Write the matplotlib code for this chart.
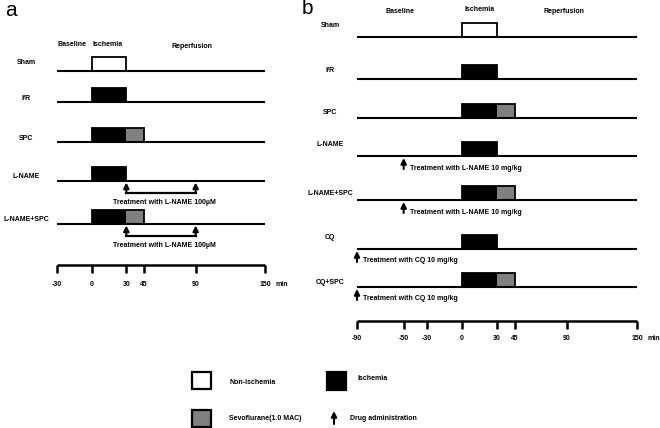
import matplotlib
matplotlib.use('Agg')
import matplotlib.pyplot as plt
from matplotlib.patches import Rectangle

plt.rcParams['font.family'] = ['Liberation Sans', 'DejaVu Sans']

# protocol timing (min)
isch_start = 0
isch_end = 30
sevo_end = 45

# panel a
rows_a = ['Sham', 'I/R', 'SPC', 'L-NAME', 'L-NAME+SPC']
box_a = ['non', 'isch', 'isch', 'isch', 'isch']
sevo_a = [False, False, True, False, True]
treat_a = [None, None, None, (30, 90), (30, 90)]
treat_text_a = 'Treatment with L-NAME 100\u00b5M'
ticks_a = [-30, 0, 30, 45, 90, 150]

# panel b
rows_b = ['Sham', 'I/R', 'SPC', 'L-NAME', 'L-NAME+SPC', 'CQ', 'CQ+SPC']
box_b = ['non', 'isch', 'isch', 'isch', 'isch', 'isch', 'isch']
sevo_b = [False, False, True, False, True, False, True]
drug_b = [None, None, None, -50, -50, -90, -90]
drug_text_b = ['', '', '', 'Treatment with L-NAME 10 mg/kg',
               'Treatment with L-NAME 10 mg/kg',
               'Treatment with CQ 10 mg/kg', 'Treatment with CQ 10 mg/kg']
ticks_b = [-90, -50, -30, 0, 30, 45, 90, 150]

# layout (pixel rows, y down)
line_y_a = [71, 102, 142, 181, 224]
label_y_a = [62, 98, 139, 176, 219]
line_y_b = [37, 79, 118, 156, 200, 249, 287]
label_y_b = [25, 70, 112, 145, 193, 237, 282]
box_h = 14
grey = '#808080'
fs = 5

fig = plt.figure(figsize=(6.6, 4.28), dpi=100)


def make_ax(left_px, t0, px0, t1, px1):
    ax = fig.add_axes([left_px / 660, 0, 330 / 660, 1])
    s = (px1 - px0) / (t1 - t0)
    ax.set_xlim(t0 - (px0 - left_px) / s, t0 + (left_px + 330 - px0) / s)
    ax.set_ylim(428, 0)
    ax.axis('off')
    return ax, s


def draw_row(ax, y, kind, sevo, tmin, tmax):
    ax.plot([tmin, tmax], [y, y], color='k', lw=1.5, solid_capstyle='butt')
    if kind == 'non':
        ax.add_patch(Rectangle((isch_start, y - box_h), isch_end - isch_start, box_h,
                               facecolor='white', edgecolor='k', lw=1.3))
    else:
        end = sevo_end if sevo else isch_end
        ax.add_patch(Rectangle((isch_start, y - box_h), isch_end - isch_start, box_h,
                               facecolor='k', edgecolor='none'))
        if sevo:
            ax.add_patch(Rectangle((isch_end, y - box_h), sevo_end - isch_end, box_h,
                                   facecolor=grey, edgecolor='none'))
        ax.add_patch(Rectangle((isch_start, y - box_h), end - isch_start, box_h,
                               facecolor='none', edgecolor='k', lw=1.3))


def up_arrow(ax, x, tip, tail):
    ax.annotate('', xy=(x, tip), xytext=(x, tail),
                arrowprops=dict(arrowstyle='-|>', color='k', lw=1.5,
                                mutation_scale=8, shrinkA=0, shrinkB=0))


def draw_axis(ax, y, ticks, label_y, s):
    ax.plot([ticks[0], ticks[-1]], [y, y], color='k', lw=1.8, solid_capstyle='butt')
    for t in ticks:
        ax.plot([t, t], [y, y + 8], color='k', lw=1.8, solid_capstyle='butt')
        ax.text(t, label_y, str(t), ha='center', va='center', fontsize=fs, fontweight='bold')
    ax.text(ticks[-1] + 10 / s, label_y, 'min', ha='left', va='center',
            fontsize=fs, fontweight='bold')


# ---- panel a ----
ax_a, s_a = make_ax(0, -30, 57, 150, 265)
fig.text(5 / 660, 1 - 11 / 428, 'a', fontsize=15, va='center', ha='left')
ax_a.text(-30, 44, 'Baseline', fontsize=fs, fontweight='bold', ha='left', va='center')
ax_a.text(1, 44, 'Ischemia', fontsize=fs, fontweight='bold', ha='left', va='center')
ax_a.text(87, 46, 'Reperfusion', fontsize=fs, fontweight='bold', ha='center', va='center')
for i, name in enumerate(rows_a):
    y = line_y_a[i]
    ax_a.text(26 / 330, label_y_a[i], name, transform=ax_a.get_yaxis_transform(),
              fontsize=fs, fontweight='bold', ha='center', va='center')
    draw_row(ax_a, y, box_a[i], sevo_a[i], ticks_a[0], ticks_a[-1])
    if treat_a[i] is not None:
        t0, t1 = treat_a[i]
        yb = y + 12
        ax_a.plot([t0, t1], [yb, yb], color='k', lw=1.6, solid_capstyle='projecting')
        up_arrow(ax_a, t0, y + 1.5, yb)
        up_arrow(ax_a, t1, y + 1.5, yb)
        ax_a.text((t0 + t1) / 2 + 3, y + 21, treat_text_a, fontsize=fs, fontweight='bold',
                  ha='center', va='center')
draw_axis(ax_a, 265, ticks_a, 285, s_a)

# ---- panel b ----
ax_b, s_b = make_ax(330, -90, 357, 150, 637)
fig.text(302 / 660, 1 - 9 / 428, 'b', fontsize=15, va='center', ha='left')
ax_b.text(-53, 11, 'Baseline', fontsize=fs, fontweight='bold', ha='center', va='center')
ax_b.text(15, 9, 'Ischemia', fontsize=fs, fontweight='bold', ha='center', va='center')
ax_b.text(87, 11, 'Reperfusion', fontsize=fs, fontweight='bold', ha='center', va='center')
for i, name in enumerate(rows_b):
    y = line_y_b[i]
    ax_b.text(0, label_y_b[i], name, transform=ax_b.get_yaxis_transform(),
              fontsize=fs, fontweight='bold', ha='center', va='center')
    draw_row(ax_b, y, box_b[i], sevo_b[i], ticks_b[0], ticks_b[-1])
    if drug_b[i] is not None:
        up_arrow(ax_b, drug_b[i], y + 2, y + 13)
        ax_b.text(drug_b[i] + 6 / s_b, y + 12, drug_text_b[i], fontsize=fs,
                  fontweight='bold', ha='left', va='center')
draw_axis(ax_b, 321, ticks_b, 339, s_b)

# ---- legend ----
lg = fig.add_axes([0, 0, 1, 1])
lg.set_xlim(0, 660)
lg.set_ylim(428, 0)
lg.axis('off')
lg.add_patch(Rectangle((192, 372), 19, 17, facecolor='white', edgecolor='k', lw=1.6))
lg.text(229, 382, 'Non-ischemia', fontsize=fs, fontweight='bold', va='center')
lg.add_patch(Rectangle((327, 372), 19, 18, facecolor='k', edgecolor='k', lw=1.6))
lg.text(357, 379, 'Ischemia', fontsize=fs, fontweight='bold', va='center')
lg.add_patch(Rectangle((192, 410), 19, 17, facecolor=grey, edgecolor='k', lw=1.6))
lg.text(229, 419, 'Sevoflurane(1.0 MAC)', fontsize=fs, fontweight='bold', va='center')
lg.annotate('', xy=(334, 411), xytext=(334, 424),
            arrowprops=dict(arrowstyle='-|>', color='k', lw=1.5,
                            mutation_scale=8, shrinkA=0, shrinkB=0))
lg.text(350, 419, 'Drug administration', fontsize=fs, fontweight='bold', va='center')

fig.savefig('out.png', dpi=100)
